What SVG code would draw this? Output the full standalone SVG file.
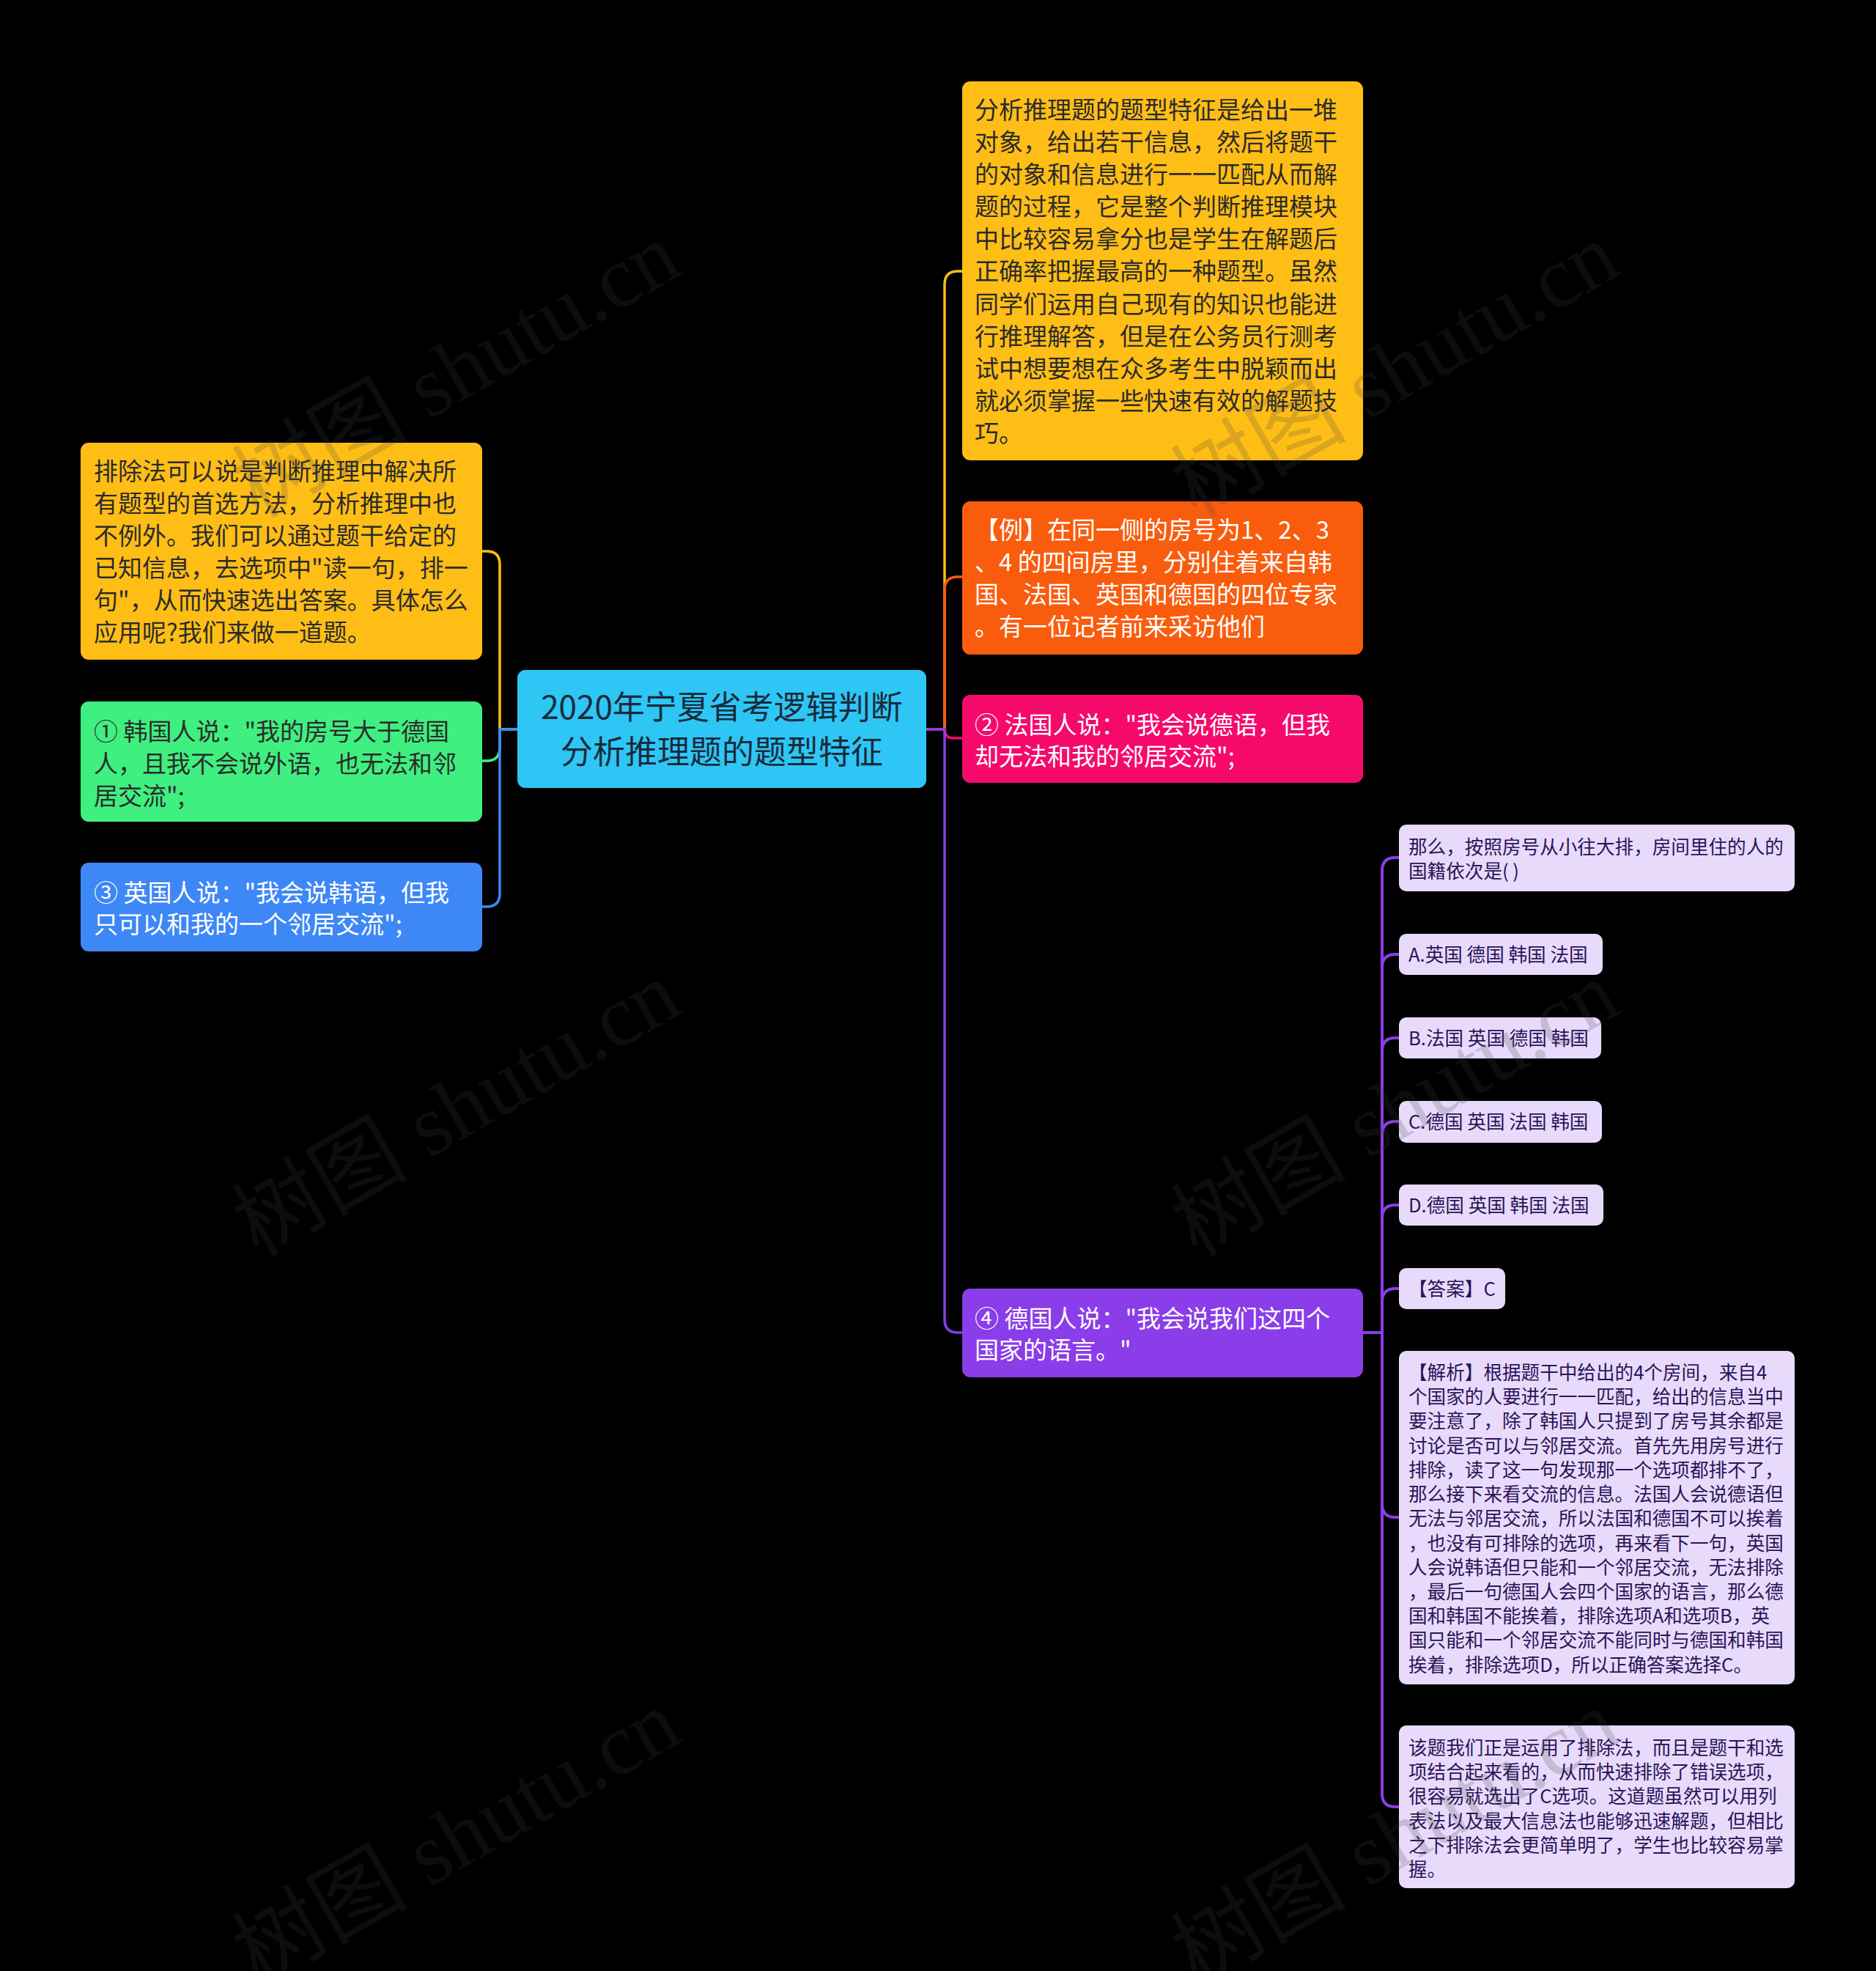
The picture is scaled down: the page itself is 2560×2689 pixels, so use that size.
<svg xmlns="http://www.w3.org/2000/svg" width="2560" height="2689" viewBox="0 0 2560 2689">
<style>
  text { font-family: "Noto Sans CJK SC", "Noto Sans", sans-serif; }
  .t33 { font-size: 33px; }
  .t26 { font-size: 25.6px; fill: #2a1458; }
  .dark { fill: #2b2b2b; }
  .white { fill: #ffffff; }
  .root { font-size: 44px; fill: #1a2a3a; text-anchor: middle; }
  .conn { fill: none; stroke-width: 3.5; }
  .pc { fill: none; stroke: #8a3de8; stroke-width: 4; }
  .lav { fill: #e8dafb; }
  .wm { font-family: "Liberation Serif", "Noto Sans CJK SC", serif; font-size: 120px; fill: #444444; opacity: 0.2; text-anchor: middle; }
</style>
<rect x="0" y="0" width="2560" height="2689" fill="#000000"/>

<g id="connectors">
  <path class="conn" stroke="#ffbe16" d="M706,995 H682 V770 Q682,752 664,752 H658"/>
  <path class="conn" stroke="#3fef80" d="M706,995 H682 V1020 Q682,1038 664,1038 H658"/>
  <path class="conn" stroke="#3e87f6" d="M706,995 H682 V1219 Q682,1237 664,1237 H658"/>
  <path class="conn" stroke="#ffbe16" d="M1264,995 H1289 V388 Q1289,370 1307,370 H1313"/>
  <path class="conn" stroke="#f95c0d" d="M1264,995 H1289 V805 Q1289,787 1307,787 H1313"/>
  <path class="conn" stroke="#f50a6c" d="M1264,995 H1289 Q1289,1007 1301,1007 H1313"/>
  <path class="conn" stroke="#8a3de8" d="M1264,995 H1289 V1800 Q1289,1818 1307,1818 H1313"/>
  <path class="pc" d="M1860,1818 H1886 V1188 Q1886,1170 1904,1170 H1909"/>
  <path class="pc" d="M1860,1818 H1886 V1320 Q1886,1302 1904,1302 H1909"/>
  <path class="pc" d="M1860,1818 H1886 V1434 Q1886,1416 1904,1416 H1909"/>
  <path class="pc" d="M1860,1818 H1886 V1548 Q1886,1530 1904,1530 H1909"/>
  <path class="pc" d="M1860,1818 H1886 V1662 Q1886,1644 1904,1644 H1909"/>
  <path class="pc" d="M1860,1818 H1886 V1776 Q1886,1758 1904,1758 H1909"/>
  <path class="pc" d="M1860,1818 H1886 V2052 Q1886,2070 1904,2070 H1909"/>
  <path class="pc" d="M1860,1818 H1886 V2447 Q1886,2465 1904,2465 H1909"/>
</g>

<g id="root">
  <rect x="706" y="914" width="558" height="161" rx="11" fill="#2dc6f5"/>
  <text class="root" x="985" y="981">2020年宁夏省考逻辑判断</text>
  <text class="root" x="985" y="1042">分析推理题的题型特征</text>
</g>

<g id="n-feature">
  <rect x="1313" y="111" width="547" height="517" rx="11" fill="#ffbe16"/>
  <text class="t33 dark" x="1330">
    <tspan x="1330" y="162">分析推理题的题型特征是给出一堆</tspan>
    <tspan x="1330" y="206">对象，给出若干信息，然后将题干</tspan>
    <tspan x="1330" y="250">的对象和信息进行一一匹配从而解</tspan>
    <tspan x="1330" y="294">题的过程，它是整个判断推理模块</tspan>
    <tspan x="1330" y="338">中比较容易拿分也是学生在解题后</tspan>
    <tspan x="1330" y="382">正确率把握最高的一种题型。虽然</tspan>
    <tspan x="1330" y="427">同学们运用自己现有的知识也能进</tspan>
    <tspan x="1330" y="471">行推理解答，但是在公务员行测考</tspan>
    <tspan x="1330" y="515">试中想要想在众多考生中脱颖而出</tspan>
    <tspan x="1330" y="559">就必须掌握一些快速有效的解题技</tspan>
    <tspan x="1330" y="603">巧。</tspan>
  </text>
</g>

<g id="n-example">
  <rect x="1313" y="684" width="547" height="209" rx="11" fill="#f95c0d"/>
  <text class="t33 white">
    <tspan x="1330" y="735">【例】在同一侧的房号为1、2、3</tspan>
    <tspan x="1330" y="779">、4 的四间房里，分别住着来自韩</tspan>
    <tspan x="1330" y="823">国、法国、英国和德国的四位专家</tspan>
    <tspan x="1330" y="867">。有一位记者前来采访他们</tspan>
  </text>
</g>

<g id="n-france">
  <rect x="1313" y="948" width="547" height="120" rx="11" fill="#f50a6c"/>
  <text class="t33 white">
    <tspan x="1330" y="1001">② 法国人说："我会说德语，但我</tspan>
    <tspan x="1330" y="1044">却无法和我的邻居交流";</tspan>
  </text>
</g>

<g id="n-germany">
  <rect x="1313" y="1758" width="547" height="121" rx="11" fill="#8a3de8"/>
  <text class="t33 white">
    <tspan x="1330" y="1811">④ 德国人说："我会说我们这四个</tspan>
    <tspan x="1330" y="1854">国家的语言。"</tspan>
  </text>
</g>

<g id="n-method">
  <rect x="110" y="604" width="548" height="296" rx="11" fill="#ffbe16"/>
  <text class="t33 dark">
    <tspan x="128" y="655">排除法可以说是判断推理中解决所</tspan>
    <tspan x="128" y="699">有题型的首选方法，分析推理中也</tspan>
    <tspan x="128" y="743">不例外。我们可以通过题干给定的</tspan>
    <tspan x="128" y="787">已知信息，去选项中"读一句，排一</tspan>
    <tspan x="128" y="831">句"，从而快速选出答案。具体怎么</tspan>
    <tspan x="128" y="875">应用呢?我们来做一道题。</tspan>
  </text>
</g>

<g id="n-korea">
  <rect x="110" y="957" width="548" height="164" rx="11" fill="#3fef80"/>
  <text class="t33 dark">
    <tspan x="128" y="1010">① 韩国人说："我的房号大于德国</tspan>
    <tspan x="128" y="1054">人，且我不会说外语，也无法和邻</tspan>
    <tspan x="128" y="1098">居交流";</tspan>
  </text>
</g>

<g id="n-england">
  <rect x="110" y="1177" width="548" height="121" rx="11" fill="#3e87f6"/>
  <text class="t33 white">
    <tspan x="128" y="1230">③ 英国人说："我会说韩语，但我</tspan>
    <tspan x="128" y="1273">只可以和我的一个邻居交流";</tspan>
  </text>
</g>

<g id="n-question">
  <rect x="1909" y="1125" width="540" height="91" rx="10" class="lav"/>
  <text class="t26">
    <tspan x="1922" y="1165">那么，按照房号从小往大排，房间里住的人的</tspan>
    <tspan x="1922" y="1198">国籍依次是( )</tspan>
  </text>
</g>

<g id="n-a">
  <rect x="1909" y="1274" width="278" height="56" rx="10" class="lav"/>
  <text class="t26" x="1922" y="1312">A.英国 德国 韩国 法国</text>
</g>

<g id="n-b">
  <rect x="1909" y="1388" width="276" height="56" rx="10" class="lav"/>
  <text class="t26" x="1922" y="1426">B.法国 英国 德国 韩国</text>
</g>

<g id="n-c">
  <rect x="1909" y="1502" width="277" height="57" rx="10" class="lav"/>
  <text class="t26" x="1922" y="1540">C.德国 英国 法国 韩国</text>
</g>

<g id="n-d">
  <rect x="1909" y="1616" width="279" height="56" rx="10" class="lav"/>
  <text class="t26" x="1922" y="1654">D.德国 英国 韩国 法国</text>
</g>

<g id="n-answer">
  <rect x="1909" y="1730" width="145" height="56" rx="10" class="lav"/>
  <text class="t26" x="1922" y="1768">【答案】C</text>
</g>

<g id="n-analysis">
  <rect x="1909" y="1843" width="540" height="455" rx="10" class="lav"/>
  <text class="t26">
    <tspan x="1922" y="1882">【解析】根据题干中给出的4个房间，来自4</tspan>
    <tspan x="1922" y="1915">个国家的人要进行一一匹配，给出的信息当中</tspan>
    <tspan x="1922" y="1948">要注意了，除了韩国人只提到了房号其余都是</tspan>
    <tspan x="1922" y="1982">讨论是否可以与邻居交流。首先先用房号进行</tspan>
    <tspan x="1922" y="2015">排除，读了这一句发现那一个选项都排不了，</tspan>
    <tspan x="1922" y="2048">那么接下来看交流的信息。法国人会说德语但</tspan>
    <tspan x="1922" y="2081">无法与邻居交流，所以法国和德国不可以挨着</tspan>
    <tspan x="1922" y="2115">，也没有可排除的选项，再来看下一句，英国</tspan>
    <tspan x="1922" y="2148">人会说韩语但只能和一个邻居交流，无法排除</tspan>
    <tspan x="1922" y="2181">，最后一句德国人会四个国家的语言，那么德</tspan>
    <tspan x="1922" y="2214">国和韩国不能挨着，排除选项A和选项B，英</tspan>
    <tspan x="1922" y="2247">国只能和一个邻居交流不能同时与德国和韩国</tspan>
    <tspan x="1922" y="2281">挨着，排除选项D，所以正确答案选择C。</tspan>
  </text>
</g>

<g id="n-summary">
  <rect x="1909" y="2354" width="540" height="222" rx="10" class="lav"/>
  <text class="t26">
    <tspan x="1922" y="2394">该题我们正是运用了排除法，而且是题干和选</tspan>
    <tspan x="1922" y="2427">项结合起来看的，从而快速排除了错误选项，</tspan>
    <tspan x="1922" y="2460">很容易就选出了C选项。这道题虽然可以用列</tspan>
    <tspan x="1922" y="2494">表法以及最大信息法也能够迅速解题，但相比</tspan>
    <tspan x="1922" y="2527">之下排除法会更简单明了，学生也比较容易掌</tspan>
    <tspan x="1922" y="2560">握。</tspan>
  </text>
</g>

<g id="watermarks">
  <text class="wm" transform="translate(643,540) rotate(-30)">树图 shutu.cn</text>
  <text class="wm" transform="translate(643,1548) rotate(-30)">树图 shutu.cn</text>
  <text class="wm" transform="translate(643,2542) rotate(-30)">树图 shutu.cn</text>
  <text class="wm" transform="translate(1924,540) rotate(-30)">树图 shutu.cn</text>
  <text class="wm" transform="translate(1924,1548) rotate(-30)">树图 shutu.cn</text>
  <text class="wm" transform="translate(1924,2542) rotate(-30)">树图 shutu.cn</text>
</g>
</svg>
